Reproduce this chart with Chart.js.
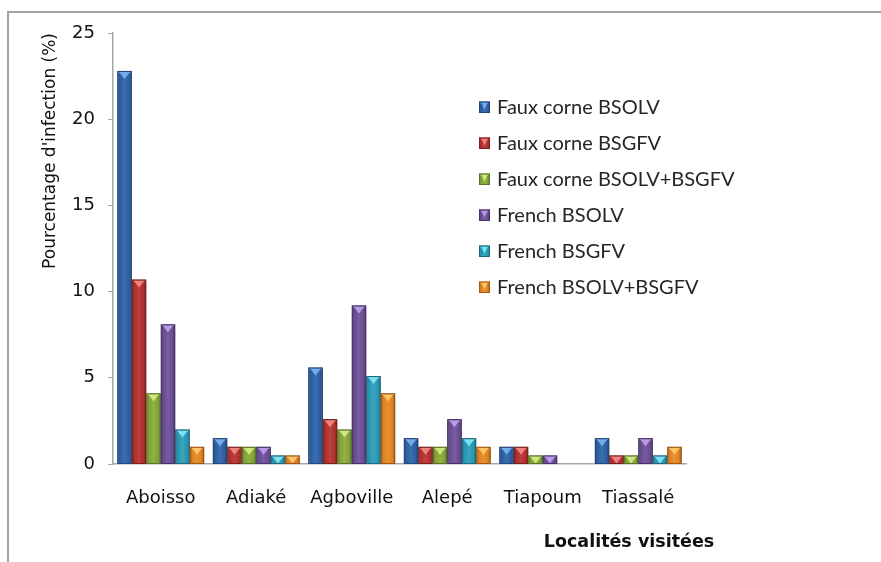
<!DOCTYPE html>
<html>
<head>
<meta charset="utf-8">
<script src="https://cdn.jsdelivr.net/npm/chart.js@4/dist/chart.umd.min.js"></script>
<style>
  html, body { margin: 0; padding: 0; background: #ffffff; }
  #wrap { width: 881px; height: 562px; position: relative; }
</style>
</head>
<body>
<div id="wrap"><canvas id="chart" width="881" height="562"></canvas></div>
<script>
// Localities visited and infection rates (%) per plant type / virus
const localites = ['Aboisso', 'Adiaké', 'Agboville', 'Alepé', 'Tiapoum', 'Tiassalé'];

const seriesNames = [
  'Faux corne BSOLV',
  'Faux corne BSGFV',
  'Faux corne BSOLV+BSGFV',
  'French BSOLV',
  'French BSGFV',
  'French BSOLV+BSGFV'
];

const fauxCorneBSOLV      = [22.8, 1.5, 5.6, 1.5, 1.0, 1.5];
const fauxCorneBSGFV      = [10.7, 1.0, 2.6, 1.0, 1.0, 0.5];
const fauxCorneBSOLVBSGFV = [4.1, 1.0, 2.0, 1.0, 0.5, 0.5];
const frenchBSOLV         = [8.1, 1.0, 9.2, 2.6, 0.5, 1.5];
const frenchBSGFV         = [2.0, 0.5, 5.1, 1.5, 0.0, 0.5];
const frenchBSOLVBSGFV    = [1.0, 0.5, 4.1, 1.0, 0.0, 1.0];

const yTicks = [0, 5, 10, 15, 20, 25];

const yTitle = "Pourcentage d'infection (%)";
const xTitle = 'Localités visitées';

// fill, edge and bevel highlight for each series
const palette = [
  { fill: '#3064ab', edge: '#21467a', light: '#7ab4f4' },
  { fill: '#b83330', edge: '#7a1f1d', light: '#f68c88' },
  { fill: '#8aab3a', edge: '#5a7423', light: '#d4ee8a' },
  { fill: '#6f519b', edge: '#46316a', light: '#c0a2ec' },
  { fill: '#2b9fbb', edge: '#1a6a7e', light: '#84e8fa' },
  { fill: '#ea8924', edge: '#a0580e', light: '#ffcb70' }
];

const values = [fauxCorneBSOLV, fauxCorneBSGFV, fauxCorneBSOLVBSGFV,
                frenchBSOLV, frenchBSGFV, frenchBSOLVBSGFV];

const datasets = values.map((vals, i) => ({
  label: seriesNames[i],
  data: vals,
  backgroundColor: palette[i].fill,
  borderColor: palette[i].edge,
  borderWidth: 1,
  borderSkipped: 'bottom',
  categoryPercentage: 0.91,
  barPercentage: 1.0
}));

// draws a bevelled bar face (dark sides, light top wedge)
function bevel(ctx, left, right, top, bottom, c) {
  const w = right - left;
  const h = bottom - top;
  if (h < 0.5 || w < 1) return;
  const g = ctx.createLinearGradient(left, 0, right, 0);
  g.addColorStop(0, 'rgba(0,0,0,0.30)');
  g.addColorStop(0.2, 'rgba(0,0,0,0.04)');
  g.addColorStop(0.5, 'rgba(255,255,255,0.07)');
  g.addColorStop(0.8, 'rgba(0,0,0,0.04)');
  g.addColorStop(1, 'rgba(0,0,0,0.34)');
  ctx.fillStyle = g;
  ctx.fillRect(left + 1, top + 1, w - 2, h - 1);
  // top wedge
  const d = Math.min(7, h - 1);
  ctx.beginPath();
  ctx.moveTo(left + 1, top + 1);
  ctx.lineTo(right - 1, top + 1);
  ctx.lineTo(right - 3, top + 2.5);
  ctx.lineTo(left + w / 2, top + 1 + d);
  ctx.lineTo(left + 3, top + 2.5);
  ctx.closePath();
  ctx.fillStyle = c.light;
  ctx.globalAlpha = 0.9;
  ctx.fill();
  ctx.globalAlpha = 1;
  ctx.strokeStyle = c.edge;
  ctx.lineWidth = 1;
  ctx.strokeRect(left + 0.5, top + 0.5, w - 1, h - 0.5);
}

const decor = {
  id: 'decor',
  beforeDraw(chart) {
    const ctx = chart.ctx;
    ctx.save();
    ctx.fillStyle = '#ffffff';
    ctx.fillRect(0, 0, chart.width, chart.height);
    // outer frame (top and left edges)
    ctx.strokeStyle = '#a3a3a3';
    ctx.lineWidth = 2;
    ctx.beginPath();
    ctx.moveTo(8, chart.height);
    ctx.lineTo(8, 12);
    ctx.lineTo(chart.width, 12);
    ctx.stroke();
    ctx.restore();
  },
  beforeDatasetsDraw(chart) {
    const ctx = chart.ctx;
    ctx.save();
    ctx.shadowColor = 'rgba(0,0,0,0.35)';
    ctx.shadowBlur = 3;
    ctx.shadowOffsetX = 1.5;
    ctx.shadowOffsetY = 1;
  },
  afterDatasetsDraw(chart) {
    const ctx = chart.ctx;
    ctx.restore();
    ctx.save();
    chart.data.datasets.forEach((ds, i) => {
      const meta = chart.getDatasetMeta(i);
      meta.data.forEach(bar => {
        const p = bar.getProps(['x', 'y', 'base', 'width'], true);
        bevel(ctx, p.x - p.width / 2, p.x + p.width / 2, p.y, p.base, palette[i]);
      });
    });
    ctx.restore();
  },
  afterDraw(chart) {
    const ctx = chart.ctx;
    const area = chart.chartArea;
    ctx.save();
    // legend
    ctx.font = '20px Lato';
    ctx.textBaseline = 'middle';
    ctx.textAlign = 'left';
    chart.data.datasets.forEach((ds, i) => {
      const cy = 107 + i * 36;
      const bx = 479, s = 11;
      ctx.fillStyle = palette[i].fill;
      ctx.fillRect(bx, cy - s / 2, s, s);
      bevel(ctx, bx, bx + s, cy - s / 2, cy + s / 2, palette[i]);
      ctx.fillStyle = '#262626';
      ctx.fillText(ds.label, 497, cy + 1);
    });
    // x axis title
    ctx.font = 'bold 17.5px "DejaVu Sans"';
    ctx.fillStyle = '#111111';
    ctx.textAlign = 'center';
    ctx.fillText(xTitle, area.right - 57, 542);
    ctx.restore();
  }
};

new Chart(document.getElementById('chart'), {
  type: 'bar',
  data: { labels: localites, datasets },
  options: {
    responsive: false,
    animation: false,
    devicePixelRatio: 1,
    layout: { padding: { left: 0, top: 33, right: 195, bottom: 0 } },
    plugins: {
      legend: { display: false },
      tooltip: { enabled: false }
    },
    scales: {
      x: {
        grid: { display: false, drawTicks: false },
        border: { display: true, color: '#a6a6a6', width: 1.5 },
        ticks: {
          color: '#111111',
          padding: 24,
          font: { family: '"DejaVu Sans"', size: 18 }
        },
        afterFit(scale) { scale.height = 98; }
      },
      y: {
        min: 0,
        max: 25,
        afterBuildTicks(scale) { scale.ticks = yTicks.map(v => ({ value: v })); },
        grid: { drawOnChartArea: false, drawTicks: true, tickLength: 5, color: '#a6a6a6' },
        border: { display: true, color: '#a6a6a6', width: 1.5 },
        ticks: {
          color: '#111111',
          padding: 13,
          font: { family: '"DejaVu Sans"', size: 18 }
        },
        title: {
          display: true,
          text: yTitle,
          align: 'end',
          color: '#111111',
          padding: { top: 40, bottom: 0 },
          font: { family: '"DejaVu Sans"', size: 17 }
        },
        afterFit(scale) { scale.width = 113; }
      }
    }
  },
  plugins: [decor]
});
</script>
</body>
</html>
